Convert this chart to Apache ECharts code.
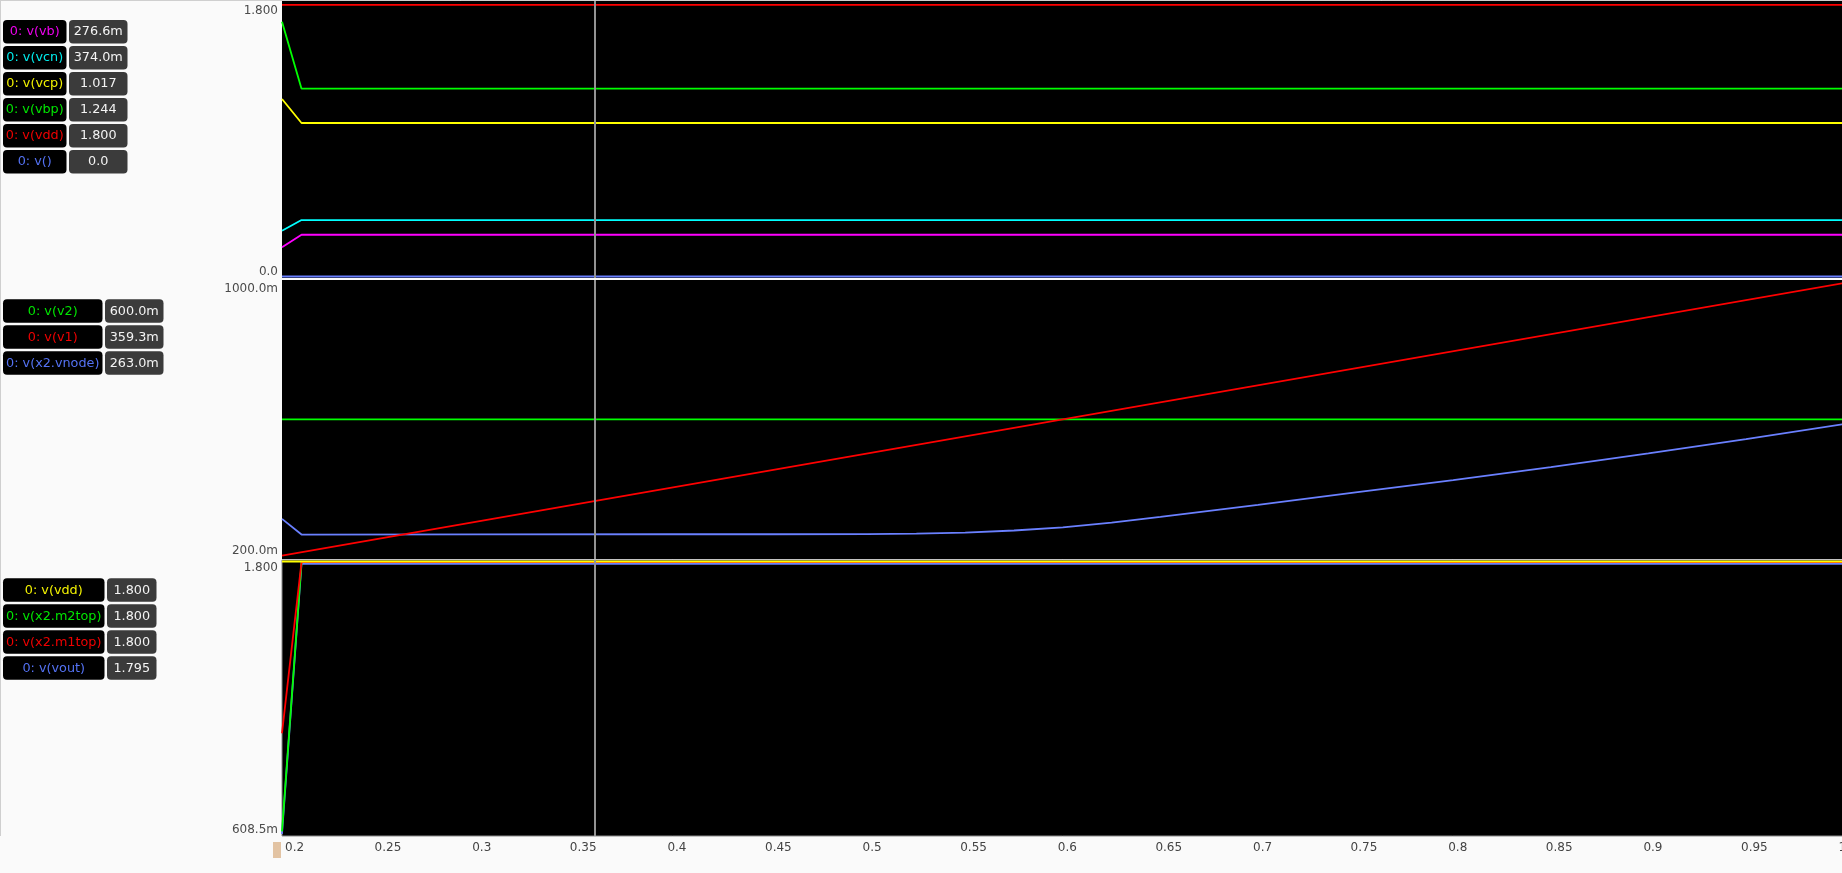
<!DOCTYPE html>
<html>
<head>
<meta charset="utf-8">
<title>waves</title>
<script src="https://cdn.jsdelivr.net/npm/echarts@6/dist/echarts.min.js"></script>
<style>
  html, body { margin: 0; padding: 0; background: #fafafa; }
  #main { width: 1842px; height: 873px; }
</style>
</head>
<body>
<div id="main"></div>
<script>
// time samples
const tStep = [0.2, 0.21, 1.0]
const tRamp = [0.2, 1.0]
const tNode = [0.2, 0.21, 0.3, 0.4, 0.45, 0.5, 0.525, 0.55, 0.575, 0.6, 0.625, 0.65, 0.7, 0.75, 0.8, 0.85, 0.9, 0.95, 1.0]

// panel 1
const vb = [0.193, 0.2766, 0.2766]
const vcn = [0.303, 0.374, 0.374]
const vcp = [1.176, 1.017, 1.017]
const vbp = [1.688, 1.244, 1.244]
const vdd = [1.8, 1.8, 1.8]
const vEmpty = [0, 0, 0]

// panel 2
const v2 = [0.6, 0.6]
const v1 = [0.2, 1.0]
const vnode = [0.308, 0.262, 0.2625, 0.263, 0.263, 0.2635, 0.265, 0.268, 0.274, 0.283, 0.297, 0.314, 0.349, 0.386, 0.422, 0.46, 0.5, 0.542, 0.586]

// panel 3
const vdd3 = [1.8, 1.8, 1.8]
const m2top = [0.62, 1.797, 1.797]
const m1top = [1.049, 1.797, 1.797]
const vout = [0.6085, 1.79, 1.79]

const cursorT = 0.3593

// axis ticks
const xTickValues = [0.2, 0.25, 0.3, 0.35, 0.4, 0.45, 0.5, 0.55, 0.6, 0.65, 0.7, 0.75, 0.8, 0.85, 0.9, 0.95, 1.0]
const xTickLabels = ['0.2', '0.25', '0.3', '0.35', '0.4', '0.45', '0.5', '0.55', '0.6', '0.65', '0.7', '0.75', '0.8', '0.85', '0.9', '0.95', '1']
const y1Ticks = [0, 1.8]
const y1Labels = ['0.0', '1.800']
const y2Ticks = [0.2, 1.0]
const y2Labels = ['200.0m', '1000.0m']
const y3Ticks = [0.6085, 1.8]
const y3Labels = ['608.5m', '1.800']

// legend rows (name, cursor readout)
const leg1Names = ['0: v(vb)', '0: v(vcn)', '0: v(vcp)', '0: v(vbp)', '0: v(vdd)', '0: v()']
const leg1Values = ['276.6m', '374.0m', '1.017', '1.244', '1.800', '0.0']
const leg2Names = ['0: v(v2)', '0: v(v1)', '0: v(x2.vnode)']
const leg2Values = ['600.0m', '359.3m', '263.0m']
const leg3Names = ['0: v(vdd)', '0: v(x2.m2top)', '0: v(x2.m1top)', '0: v(vout)']
const leg3Values = ['1.800', '1.800', '1.800', '1.795']

const MAGENTA = '#ff00ff', CYAN = '#00ffff', YELLOW = '#ffff00', GREEN = '#00ff00', RED = '#ff0000', BLUE = '#6a80ff'
const leg1Colors = ['#f000f0', '#00ecec', '#f2f200', '#00e600', '#f00000', '#5472f4']
const leg2Colors = ['#00e600', '#f00000', '#5472f4']
const leg3Colors = ['#f2f200', '#00e600', '#f00000', '#5472f4']

const FONT = '"DejaVu Sans", sans-serif'
const xMin = 0.2
const xMax = 1.0002
const labelShift = 5 / 1952

const pair = (ts, vs) => ts.map((t, i) => [t, vs[i]])

const chart = echarts.init(document.getElementById('main'))

function yLabeler (ticks, labels) {
  return function (v) {
    const i = ticks.findIndex(t => Math.abs(t - v) < 1e-9)
    const s = i >= 0 ? labels[i] : ''
    return i === 0 ? '{lo|' + s + '}' : '{hi|' + s + '}'
  }
}

const richY = {
  lo: { padding: [0, 0, 9, 0], color: '#4a4a4a', fontSize: 12, fontFamily: FONT },
  hi: { padding: [12, 0, 0, 0], color: '#4a4a4a', fontSize: 12, fontFamily: FONT }
}

function yAxisFor (grid, min, max, ticks, labels) {
  return {
    type: 'value', gridIndex: grid, min: min, max: max,
    axisLine: { show: false }, axisTick: { show: false }, splitLine: { show: false },
    axisLabel: {
      customValues: ticks, formatter: yLabeler(ticks, labels), margin: 4,
      verticalAlign: 'middle', color: '#4a4a4a', fontSize: 12, fontFamily: FONT, rich: richY
    }
  }
}

function xAxisFor (grid) {
  return {
    type: 'value', gridIndex: grid, min: xMin, max: xMax,
    axisLine: { show: false }, axisTick: { show: false }, splitLine: { show: false },
    axisLabel: { show: false }
  }
}

function line (name, x, y, data, color, extra) {
  return Object.assign({
    name: name, type: 'line', xAxisIndex: x, yAxisIndex: y, data: data,
    showSymbol: false, symbol: 'none', lineStyle: { color: color, width: 1.8 },
    itemStyle: { color: color }, emphasis: { disabled: true }
  }, extra || {})
}

const cursor = {
  markLine: {
    silent: true, symbol: 'none', label: { show: false },
    lineStyle: { color: '#939393', width: 2, type: 'solid' },
    data: [{ xAxis: cursorT }]
  }
}

function legendBlock (names, values, colors, top, nameW, valW) {
  const els = []
  names.forEach((n, i) => {
    const y = top + i * 26
    els.push({ type: 'rect', shape: { x: 3, y: y, width: nameW, height: 23.5, r: 4 }, style: { fill: '#000' } })
    els.push({ type: 'text', x: 3 + nameW / 2, y: y + 12, style: { text: n, fill: colors[i], font: '12.8px ' + FONT, align: 'center', verticalAlign: 'middle' } })
    els.push({ type: 'rect', shape: { x: 5.5 + nameW, y: y, width: valW, height: 23.5, r: 4 }, style: { fill: '#3b3b3b' } })
    els.push({ type: 'text', x: 5.5 + nameW + valW / 2, y: y + 12, style: { text: values[i], fill: '#f4f4f4', font: '12.8px ' + FONT, align: 'center', verticalAlign: 'middle' } })
  })
  return els
}

const graphics = [].concat(
  [
    { type: 'line', shape: { x1: 0, y1: 0.5, x2: 1842, y2: 0.5 }, style: { stroke: '#cfcfcf', lineWidth: 1 } },
    { type: 'line', shape: { x1: 0.5, y1: 0, x2: 0.5, y2: 836 }, style: { stroke: '#cfcfcf', lineWidth: 1 } },
    { type: 'rect', shape: { x: 273, y: 842, width: 8, height: 16 }, style: { fill: '#e2c3a3' } }
  ],
  legendBlock(leg1Names, leg1Values, leg1Colors, 20, 63.5, 58.5),
  legendBlock(leg2Names, leg2Values, leg2Colors, 299.3, 99.5, 58.5),
  legendBlock(leg3Names, leg3Values, leg3Colors, 578.3, 101.5, 49.5)
)

chart.setOption({
  animation: false,
  backgroundColor: '#fafafa',
  grid: [
    { left: 282, width: 1562, top: 1, height: 277, outerBoundsMode: 'none', show: true, backgroundColor: '#000', borderWidth: 0 },
    { left: 282, width: 1562, top: 280, height: 279, outerBoundsMode: 'none', show: true, backgroundColor: '#000', borderWidth: 0 },
    { left: 282, width: 1562, top: 560, height: 276, outerBoundsMode: 'none', show: true, backgroundColor: '#000', borderColor: '#8a8a8a', borderWidth: 1 }
  ],
  xAxis: [
    xAxisFor(0),
    xAxisFor(1),
    {
      type: 'value', gridIndex: 2, min: xMin, max: xMax,
      axisLine: { show: false }, axisTick: { show: false }, splitLine: { show: false },
      axisLabel: {
        customValues: [xTickValues[0]], formatter: () => xTickLabels[0],
        align: 'left', padding: [0, 0, 0, 3], margin: 6, color: '#444', fontSize: 12, fontFamily: FONT
      }
    },
    {
      type: 'value', gridIndex: 2, position: 'bottom', min: xMin + labelShift, max: xMax + labelShift,
      axisLine: { show: false }, axisTick: { show: false }, splitLine: { show: false },
      axisLabel: {
        customValues: xTickValues.slice(1),
        formatter: v => xTickLabels[xTickValues.findIndex(t => Math.abs(t - v) < 1e-9)],
        align: 'left', margin: 6, color: '#444', fontSize: 12, fontFamily: FONT
      }
    }
  ],
  yAxis: [
    yAxisFor(0, -0.00999, 1.82518, y1Ticks, y1Labels),
    yAxisFor(1, 0.19032, 1.0091, y2Ticks, y2Labels),
    yAxisFor(2, 0.59974, 1.80656, y3Ticks, y3Labels)
  ],
  series: [
    line('v()', 0, 0, pair(tStep, vEmpty), BLUE, cursor),
    line('v(vb)', 0, 0, pair(tStep, vb), MAGENTA),
    line('v(vcn)', 0, 0, pair(tStep, vcn), CYAN),
    line('v(vcp)', 0, 0, pair(tStep, vcp), YELLOW),
    line('v(vbp)', 0, 0, pair(tStep, vbp), GREEN),
    line('v(vdd)', 0, 0, pair(tStep, vdd), RED),

    line('v(x2.vnode)', 1, 1, pair(tNode, vnode), BLUE, cursor),
    line('v(v2)', 1, 1, pair(tRamp, v2), GREEN),
    line('v(v1)', 1, 1, pair(tRamp, v1), RED),

    line('v(vout)', 2, 2, pair(tStep, vout), BLUE, cursor),
    line('v(x2.m2top)', 2, 2, pair(tStep, m2top), GREEN),
    line('v(x2.m1top)', 2, 2, pair(tStep, m1top), RED),
    line('v(vdd)', 2, 2, pair(tStep, vdd3), YELLOW)
  ],
  graphic: graphics
})
</script>
</body>
</html>
